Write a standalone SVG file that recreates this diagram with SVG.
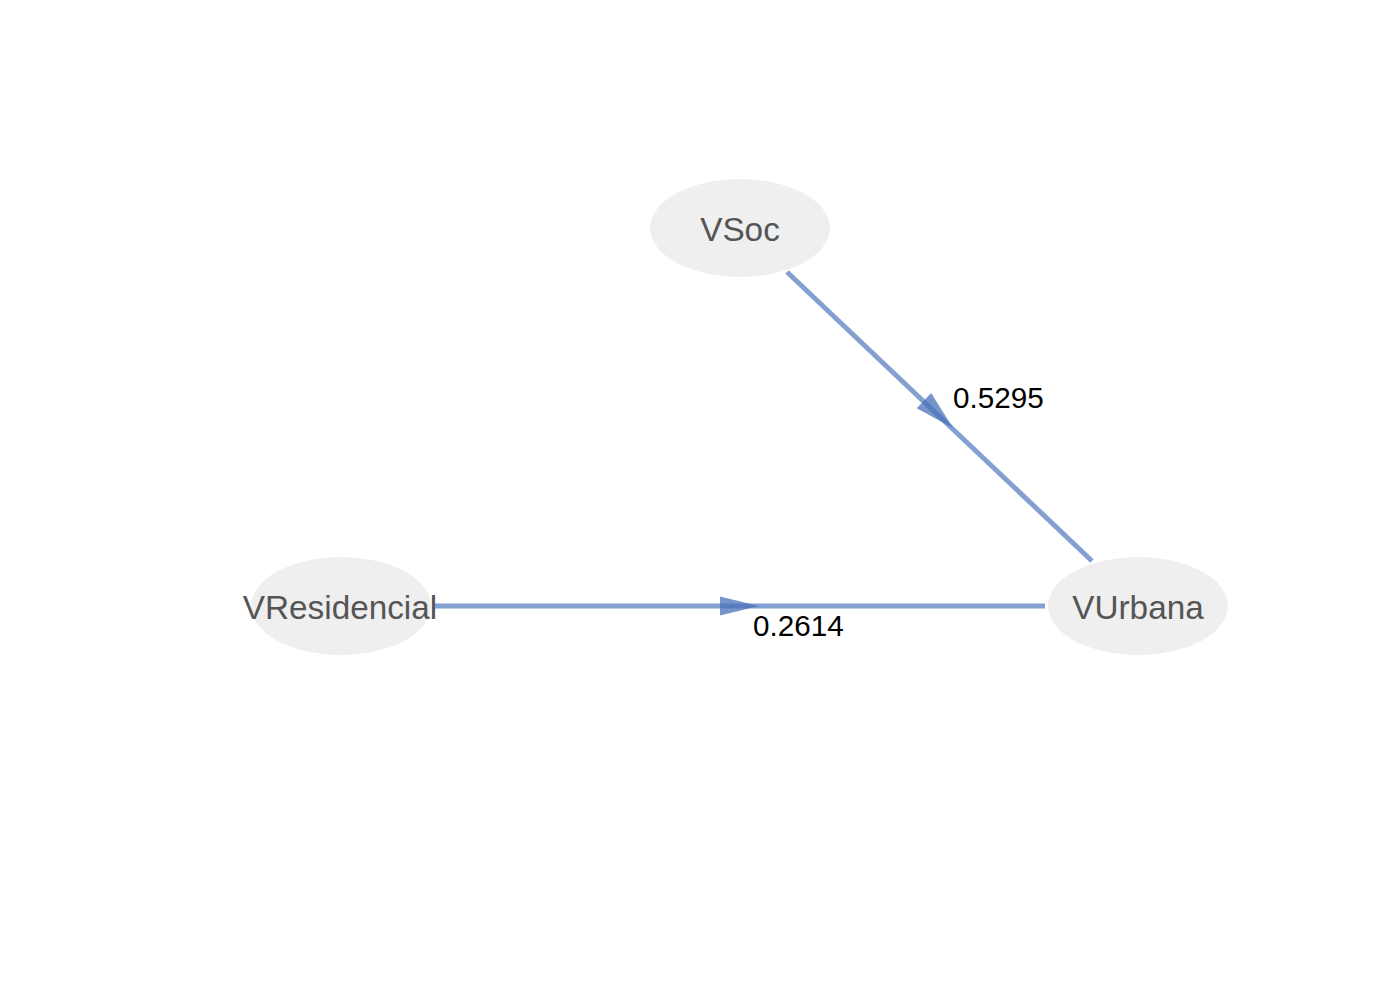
<svg xmlns="http://www.w3.org/2000/svg" width="1400" height="1000" viewBox="0 0 1400 1000">
<style>
.node ellipse{fill:#efefef}
.node text{font-family:"Liberation Sans",Arial,sans-serif;font-size:33.3px;fill:#555555;text-anchor:middle}
.edge line{stroke:#5a80c0;stroke-opacity:0.75;stroke-width:5}
.edge polygon{fill:#4a72b8;fill-opacity:0.75}
.lbl{font-family:"Liberation Sans",Arial,sans-serif;font-size:29.7px;fill:#000000}
</style>
<rect width="1400" height="1000" fill="#ffffff"/>
<g id="connectors">
<g class="edge" id="e-vsoc-vurbana">
<line x1="787" y1="272" x2="1092" y2="561"/>
<polygon points="0,0 -40,-10.5 -40,10.5" transform="translate(953,428) rotate(43.4)"/>
<text class="lbl" x="953" y="408">0.5295</text>
</g>
<g class="edge" id="e-vres-vurbana">
<line x1="435" y1="606" x2="1045" y2="606"/>
<polygon points="0,0 -39,-9.5 -39,9.5" transform="translate(759,606)"/>
<text class="lbl" x="753" y="636">0.2614</text>
</g>
</g>
<g class="node" id="VSoc">
<ellipse cx="740" cy="228" rx="90" ry="49"/>
<text x="740" y="241">VSoc</text>
</g>
<g class="node" id="VResidencial">
<ellipse cx="341" cy="606" rx="90" ry="49"/>
<text x="340" y="619">VResidencial</text>
</g>
<g class="node" id="VUrbana">
<ellipse cx="1138" cy="606" rx="90" ry="49"/>
<text x="1138" y="619">VUrbana</text>
</g>
</svg>
